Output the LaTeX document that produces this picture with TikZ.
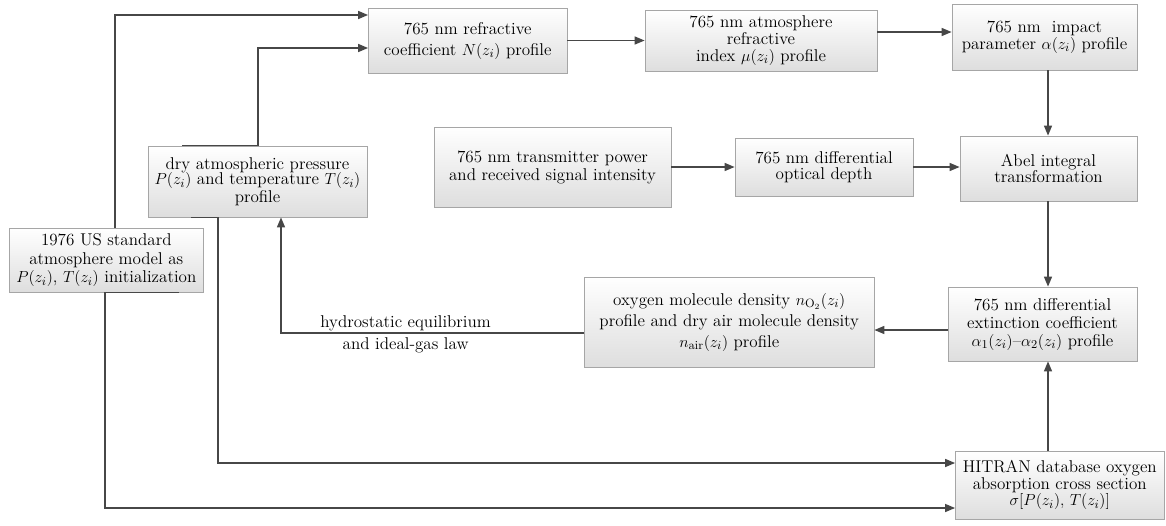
\documentclass[tikz,border=0pt]{standalone}
\usetikzlibrary{arrows.meta,shadows}
\begin{document}
\begin{tikzpicture}[x=0.75pt,y=-0.75pt]
\tikzset{
 bx/.style={draw=black!35, line width=0.6pt, top color=white, bottom color=black!13,
   drop shadow={shadow xshift=1pt, shadow yshift=-1pt, fill=black!30, opacity=0.5},
   align=center, inner sep=1pt},
 fs/.style={font=\fontsize{12.8}{#1}\selectfont},
 ln/.style={draw=black!72, line width=1.1pt},
 arr/.style={ln, -{Triangle[length=7.5pt,width=6pt]}},
 lbl/.style={font=\fontsize{12.8}{12.75}\selectfont, inner sep=0pt}
}
\fill[white] (0,0) rectangle (1166,525);
\useasboundingbox (0,0) rectangle (1166,525);

\node[bx, fs=15.75pt, minimum width=148.9pt, minimum height=48.75pt] (A) at (467.75,40.5)
  {765 nm refractive\\coefficient $N(z_i)$ profile};
\node[bx, fs=12.5pt, minimum width=174pt, minimum height=45.75pt] (B) at (761,40.5)
  {765 nm atmosphere\\refractive\\index $\mu(z_i)$ profile};
\node[bx, fs=12.5pt, minimum width=138.75pt, minimum height=49.5pt] (C) at (1044.5,37)
  {765 nm\ \ impact\\parameter $\alpha(z_i)$ profile};
\node[bx, fs=13.5pt, minimum width=177.75pt, minimum height=60pt] (D) at (552.5,167)
  {765 nm transmitter power\\and received signal intensity};
\node[bx, fs=12pt, minimum width=133.5pt, minimum height=43.5pt] (E) at (824,167)
  {765 nm differential\\optical depth};
\node[bx, fs=12pt, minimum width=132.75pt, minimum height=48.75pt] (F) at (1048.5,168.5)
  {Abel integral\\transformation};
\node[bx, fs=11.8pt, minimum width=164.25pt, minimum height=53.25pt] (G) at (257.5,181.5)
  {dry atmospheric pressure\\$P(z_i)$ and temperature $T(z_i)$\\profile};
\node[bx, fs=14pt, minimum width=145pt, minimum height=48pt] (H) at (106.3,260)
  {1976 US standard\\atmosphere model as\\$P(z_i)$, $T(z_i)$ initialization};
\node[bx, fs=15.75pt, minimum width=217.1pt, minimum height=67.5pt] (I) at (729.25,322)
  {oxygen molecule density $n_{\mathrm{O}_2}(z_i)$\\profile and dry air molecule density\\$n_{\mathrm{air}}(z_i)$ profile};
\node[bx, fs=13.5pt, minimum width=141.75pt, minimum height=55.5pt] (J) at (1042.5,324)
  {765 nm differential\\extinction coefficient\\$\alpha_1(z_i)$--$\alpha_2(z_i)$ profile};
\node[bx, fs=12.5pt, minimum width=156.4pt, minimum height=51pt] (K) at (1059.75,485)
  {HITRAN database oxygen\\absorption cross section\\$\sigma[P(z_i),\,T(z_i)]$};

\node[lbl] (l1) at (405.6,323) {hydrostatic equilibrium};
\node[lbl] (l2) at (405.6,345) {and ideal-gas law};

\coordinate (t15) at (115,15);
\coordinate (t48) at (258,48);
\coordinate (t48a) at (182,48);
\coordinate (r32) at (0,32);
\coordinate (v) at (1048,0);
\coordinate (m330) at (0,330);
\coordinate (hy) at (281,333);
\coordinate (g0) at (191,463);
\coordinate (g1) at (218,463);
\coordinate (h0) at (179,508);
\coordinate (h1) at (105,508);

\draw[arr] (H.north -| t15) |- (A.west |- t15);
\draw[arr] (G.north -| t48a) -- (G.north -| t48) |- (A.west |- t48);
\draw[arr] (A.east) -- (B.west);
\draw[arr] (B.east |- r32) -- (C.west |- r32);
\draw[arr] (C.south -| v) -- (F.north -| v);
\draw[arr] (D.east) -- (E.west);
\draw[arr] (E.east) -- (E.east -| F.west);
\draw[arr] (F.south -| v) -- (J.north -| v);
\draw[arr] (J.west |- m330) -- (I.east |- m330);
\draw[arr] (I.west |- hy) -- (hy) -- (G.south -| hy);
\draw[arr] (G.south -| g0) -- (G.south -| g1) |- (K.west |- g1);
\draw[arr] (H.south -| h0) -- (H.south -| h1) |- (K.west |- h1);
\draw[arr] (K.north -| v) -- (J.south -| v);
\end{tikzpicture}
\end{document}
